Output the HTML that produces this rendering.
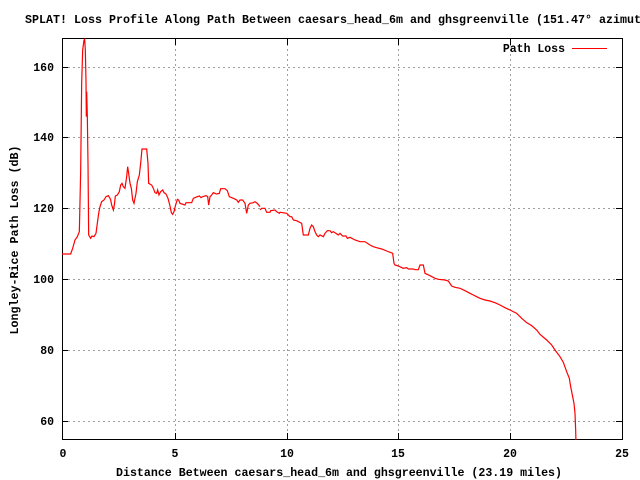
<!DOCTYPE html>
<html><head><meta charset="utf-8"><style>
html,body{margin:0;padding:0;background:#fff;}
svg{display:block;font-family:"Liberation Mono","DejaVu Sans Mono",monospace;font-size:11.5px;}
</style></head><body>
<svg width="640" height="480" viewBox="0 0 640 480" xmlns="http://www.w3.org/2000/svg">
<rect width="640" height="480" fill="#fff"/>
<g stroke="#a0a0a0" stroke-width="1" stroke-dasharray="2,3" fill="none">
<path d="M175.5,39V439M287.5,39V439M398.5,39V439M510.5,39V439"/>
<path d="M63,67.5H622M63,137.5H622M63,208.5H622M63,279.5H622M63,350.5H622M63,421.5H622"/>
</g>
<g stroke="#000" stroke-width="1" fill="none">
<rect x="62.5" y="38.5" width="560" height="401"/>
<path d="M62,67.5h6M62,137.5h6M62,208.5h6M62,279.5h6M62,350.5h6M62,421.5h6M622,67.5h-6M622,137.5h-6M622,208.5h-6M622,279.5h-6M622,350.5h-6M622,421.5h-6"/>
<path d="M175.5,439v-6M287.5,439v-6M398.5,439v-6M510.5,439v-6M175.5,39v6M287.5,39v6M398.5,39v6M510.5,39v6"/>
</g>
<g fill="#000" font-weight="bold">
<text x="25" y="23" textLength="630" lengthAdjust="spacingAndGlyphs">SPLAT! Loss Profile Along Path Between caesars_head_6m and ghsgreenville (151.47° azimuth)</text>
<g text-anchor="end">
<text x="54" y="71">160</text><text x="54" y="141">140</text><text x="54" y="212">120</text>
<text x="54" y="283">100</text><text x="54" y="354">80</text><text x="54" y="425">60</text>
<text x="565" y="52">Path Loss</text>
</g>
<g text-anchor="middle">
<text x="63" y="457">0</text><text x="175" y="457">5</text><text x="287" y="457">10</text>
<text x="398" y="457">15</text><text x="510" y="457">20</text><text x="622" y="457">25</text>
<text x="339" y="476" textLength="446" lengthAdjust="spacingAndGlyphs">Distance Between caesars_head_6m and ghsgreenville (23.19 miles)</text>
<text transform="translate(18,240) rotate(-90)" textLength="189" lengthAdjust="spacingAndGlyphs">Longley-Rice Path Loss (dB)</text>
</g>
</g>
<path d="M572,48.5H607" stroke="#f00" stroke-width="1"/>
<svg x="0" y="0" width="640" height="480" viewBox="0 0 640 480">
<clipPath id="c"><rect x="62" y="38" width="561" height="402"/></clipPath>
<g clip-path="url(#c)" fill="none" stroke="#f00" stroke-width="1.2">
<g transform="translate(60,30) scale(0.33333)">
<polyline vector-effect="non-scaling-stroke" points="5,672 32,672 38,655 45,630 52,620 58,605 62,425 65,160 68,60 72,30 74,28 76,60 78,155 79,260 80,185 82,260 84,400 86,615 92,625 96,618 102,620 108,610 112,580 116,550 120,530 125,515 132,510 138,500 145,497 150,505 152,510 155,525 160,540 163,525 166,498 172,495 178,485 182,465 186,460 190,470 195,475 200,440 203,410 206,430 210,460 214,475 218,510 222,520 228,490 232,455 238,435 242,400 246,357 260,357 264,400 266,460 275,465 280,475 285,488 290,490 293,480 297,495 302,485 308,480 312,488 318,492 324,505 330,528 334,548 338,553 342,545 346,528 352,508 356,510 360,520 375,525 378,518 385,518 395,518 400,505 412,500 418,498 423,503 428,500 438,497 443,500 446,525 450,500 455,495 460,488 470,492 478,490 482,476 495,476 502,482 508,500 520,505 530,510 535,517 540,510 548,510 555,520 560,550 565,525 570,520 580,518 585,515 592,520 600,530"/>
</g>
<g transform="translate(250,180) scale(0.33333)">
<polyline vector-effect="non-scaling-stroke" points="30,90 35,85 45,85 50,97 60,97 62,92 75,90 80,95 88,100 90,97 110,100 120,110 125,110 130,120 140,122 155,130 160,165 175,165 180,145 185,135 190,140 195,155 200,165 205,170 210,165 220,170 225,160 232,152 240,152 245,158 250,155 258,160 265,165 270,160 278,168 288,168 292,175 300,172 315,180 330,185 345,185 360,195 370,200 380,203 395,207 410,213 428,220 432,250 435,255 445,258 460,265 470,263 475,267 490,267 495,269 505,269 510,255 520,255 525,280 540,287 555,295 565,298 585,300 595,303 605,318 615,322 630,325 645,332 660,340 670,345 680,350 690,355 705,360 720,363 735,368 750,375 765,383 780,390 800,400 815,415 830,428 845,437 860,450 870,463 890,480 905,495 915,510 930,530 940,547 950,575 958,595 962,620 968,650 972,670 975,700 977,750 978,790"/>
</g>
</g>
</svg>
</svg>
</body></html>
